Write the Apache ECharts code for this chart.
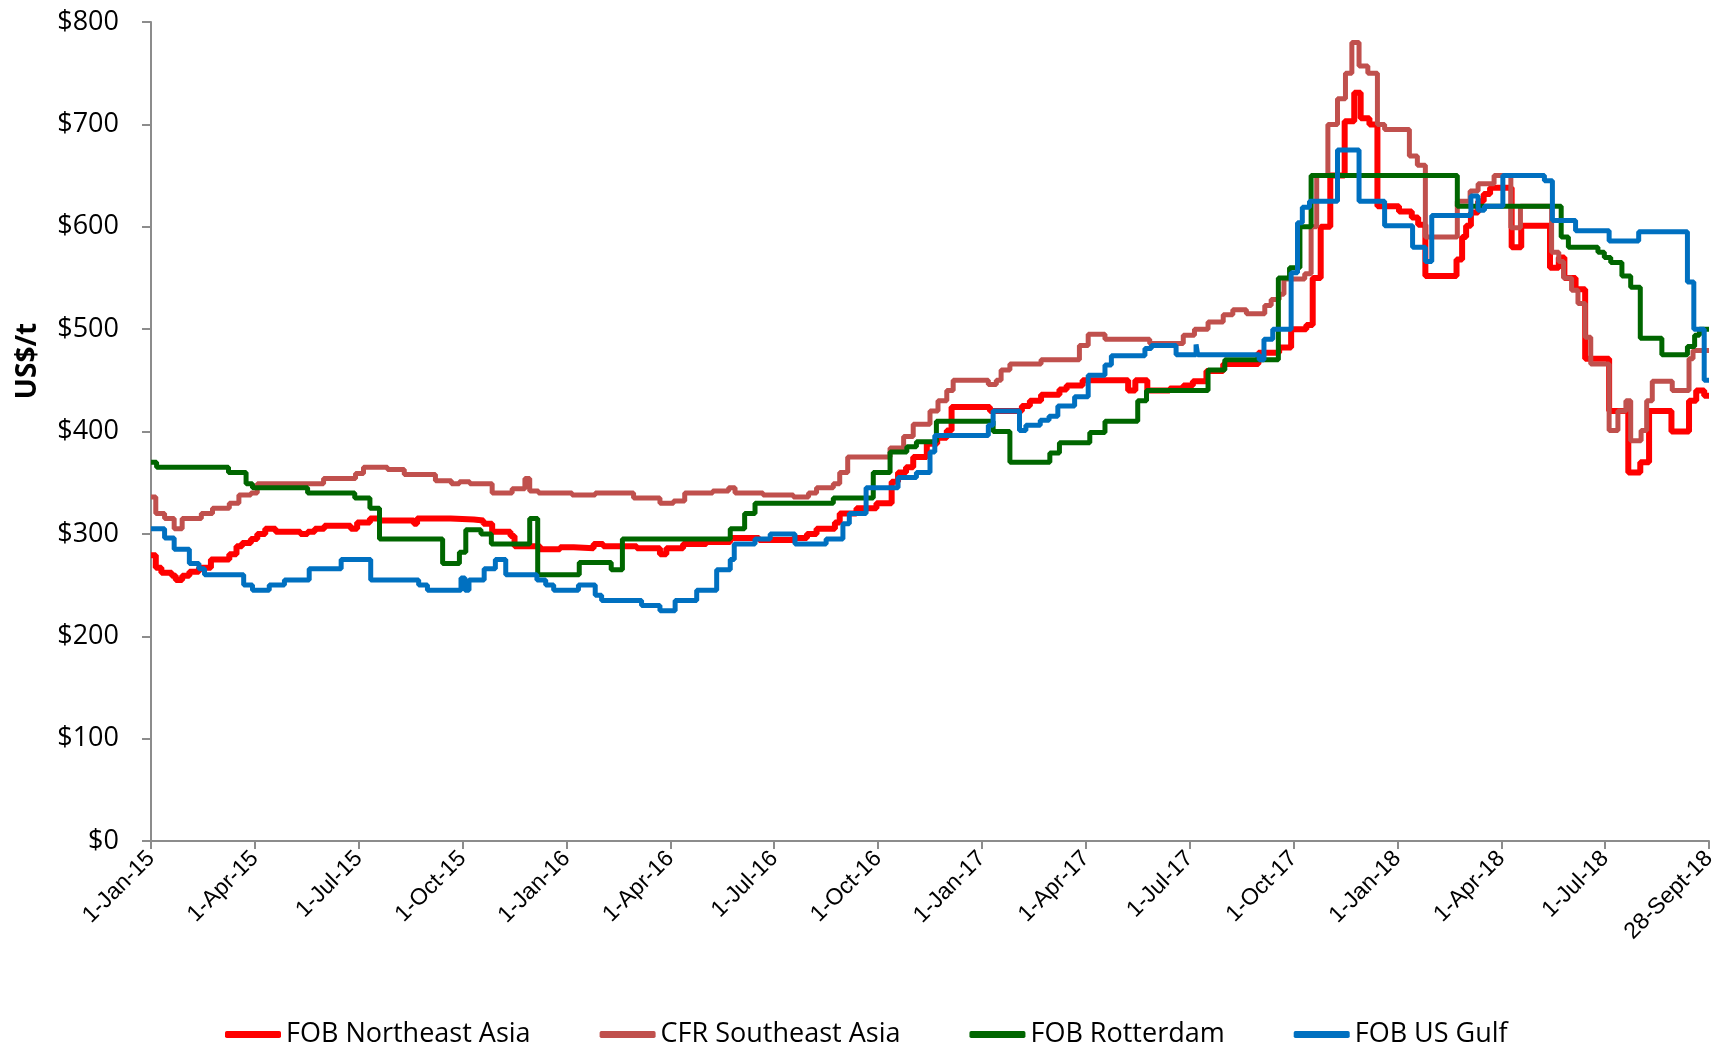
<!DOCTYPE html>
<html>
<head>
<meta charset="utf-8">
<title>Price chart</title>
<script src="https://cdn.jsdelivr.net/npm/echarts@6/dist/echarts.min.js"></script>
<style>
  html, body { margin: 0; padding: 0; background: #fff; }
  #chart { width: 1729px; height: 1046px; }
</style>
</head>
<body>
<div id="chart"></div>
<script>
// x values are weeks counted from 1-Jan-15, one tick label every 13 weeks
const tickLabels = ['1-Jan-15', '1-Apr-15', '1-Jul-15', '1-Oct-15', '1-Jan-16', '1-Apr-16',
  '1-Jul-16', '1-Oct-16', '1-Jan-17', '1-Apr-17', '1-Jul-17', '1-Oct-17', '1-Jan-18',
  '1-Apr-18', '1-Jul-18', '28-Sept-18'];

const seriesNames = ['FOB Northeast Asia', 'CFR Southeast Asia', 'FOB Rotterdam', 'FOB US Gulf'];

// [week, US$/t] at each price change
const fobNortheastAsia = [
  [0, 279], [0.6, 267], [1.3, 262], [2.6, 259], [3.1, 255], [3.9, 259], [4.8, 263], [6, 267],
  [7.5, 275], [9.8, 280], [10.7, 288], [11.4, 291], [12.5, 295], [13.3, 300], [14.3, 305],
  [15.6, 302], [18.7, 300], [19.6, 302], [20.5, 305], [21.7, 308], [25, 305], [25.8, 311],
  [27.4, 315], [28.7, 313], [32.9, 310], [33.3, 315], [37.5, 314], [40.4, 313], [41.6, 310],
  [42.7, 302], [45, 298], [45.5, 288], [48.7, 285], [51.2, 287], [52.9, 286], [55.4, 290],
  [56.6, 288], [60.8, 286], [63.7, 280], [64.5, 286], [66.6, 290], [69.5, 292], [72.5, 296],
  [76.1, 294], [80.4, 296], [82.1, 300], [83.3, 305], [85.6, 311], [86.2, 320], [88.3, 325],
  [90.8, 330], [92.7, 351], [93.5, 360], [94.5, 365], [95.4, 375], [97.1, 388], [98.4, 394],
  [99.6, 401], [100.2, 424], [105, 420], [109, 425], [110, 430], [111.4, 436], [113.7, 441],
  [114.6, 445], [116.6, 450], [122.3, 440], [123.2, 450], [124.7, 440], [127.5, 442],
  [129.2, 445], [130.4, 449], [132.1, 459], [134.2, 466], [138.6, 477], [141.2, 482],
  [142.7, 500], [144.6, 504], [145.4, 550], [146.4, 600], [147.6, 650], [149.4, 703],
  [150.6, 731], [151.4, 706], [152.5, 700], [153.5, 620], [156.2, 615], [157.8, 609],
  [158.6, 602], [159.5, 552], [163.4, 568], [164.1, 590], [164.6, 601], [165.2, 614],
  [166.1, 625], [166.8, 632], [167.6, 638], [170.3, 580], [171.5, 601], [175.1, 560],
  [176.2, 570], [176.9, 550], [178.3, 539], [179.5, 471], [182.5, 420], [184.9, 360],
  [186.4, 370], [187.5, 420], [190.3, 400], [192.5, 430], [193.4, 440], [194.4, 435], [195, 435]
];

const cfrSoutheastAsia = [
  [0, 336], [0.6, 320], [1.7, 315], [2.9, 305], [3.9, 315], [6.3, 320], [7.7, 325], [9.8, 330],
  [11, 338], [12.5, 340], [13.3, 349], [21.6, 354], [25.6, 359], [26.6, 365], [29.6, 363],
  [31.7, 358], [35.6, 352], [37.6, 349], [38.6, 351], [39.9, 349], [42.7, 340], [45.2, 344],
  [46.8, 354], [47.4, 342], [48.5, 340], [52.7, 338], [55.6, 340], [60.4, 335], [63.7, 330],
  [65.4, 332], [66.8, 340], [70.3, 342], [72.3, 345], [73.1, 340], [76.6, 338], [80.4, 336],
  [82.3, 340], [83.3, 345], [85.4, 349], [86.2, 360], [87.2, 375], [92.5, 384], [94.2, 395],
  [95.4, 407], [97.5, 420], [98.5, 430], [99.6, 440], [100.4, 450], [104.8, 446], [105.8, 450],
  [106.4, 460], [107.5, 466], [111.4, 470], [116.2, 484], [117.3, 495], [119.4, 490],
  [125, 486], [129.2, 494], [130.6, 500], [132.3, 507], [134.2, 514], [135.4, 519],
  [137.1, 515], [139.4, 523], [140.2, 529], [141.2, 534], [141.8, 549], [144.4, 554],
  [145.2, 600], [145.9, 650], [147.3, 700], [148.5, 725], [149.5, 750], [150.3, 780],
  [151.2, 757], [152.3, 750], [153.5, 700], [154.4, 695], [157.5, 669], [158.5, 660],
  [159.5, 590], [163.5, 625], [165.1, 635], [166.1, 642], [168.1, 650], [170.2, 599],
  [171.4, 620], [175.3, 575], [176.2, 566], [176.8, 550], [177.8, 538], [178.6, 525],
  [179.5, 492], [180.2, 466], [182.5, 401], [183.6, 420], [184.6, 430], [185.2, 391],
  [186.5, 401], [187.2, 430], [187.9, 449], [190.4, 440], [192.5, 471], [193, 479], [195, 479]
];

const fobRotterdam = [
  [0, 370], [0.7, 365], [9.7, 360], [11.9, 349], [12.7, 345], [19.6, 340], [25.5, 335],
  [27.4, 325], [28.6, 295], [36.5, 271], [38.6, 282], [39.4, 304], [41.3, 300], [42.6, 290],
  [47.4, 315], [48.4, 260], [53.6, 272], [57.6, 265], [59, 295], [72.5, 305], [74.3, 320],
  [75.6, 330], [85.4, 335], [90.4, 360], [92.5, 380], [94.6, 385], [95.8, 390], [98.3, 410],
  [105.4, 400], [107.5, 370], [112.5, 379], [113.7, 389], [117.5, 399], [119.4, 410],
  [123.5, 430], [124.6, 440], [132.3, 460], [134.4, 470], [141.1, 550], [142.5, 560],
  [143.8, 600], [145.2, 650], [163.5, 620], [176.5, 590], [177.4, 580], [181.1, 575],
  [181.9, 570], [182.7, 565], [184.1, 552], [185.2, 541], [186.4, 491], [189.1, 475],
  [192.3, 483], [193.2, 494], [193.8, 500], [195, 500]
];

const fobUsGulf = [
  [0, 305], [1.7, 296], [2.9, 285], [4.8, 271], [6, 266], [6.7, 260], [11.6, 250], [12.7, 245],
  [14.8, 250], [16.7, 255], [19.8, 266], [23.8, 275], [27.5, 255], [33.5, 250], [34.6, 245],
  [38.8, 257], [39.3, 245], [39.8, 255], [41.7, 266], [43.1, 275], [44.4, 260], [48.3, 255],
  [49.4, 250], [50.4, 245], [53.5, 250], [55.6, 240], [56.4, 235], [61.4, 230], [63.7, 225],
  [65.6, 235], [68.3, 245], [70.8, 265], [72.5, 275], [73, 290], [75.6, 295], [77.5, 300],
  [80.6, 290], [84.5, 295], [86.6, 310], [87.4, 320], [89.5, 345], [93.5, 355], [95.8, 360],
  [97.5, 380], [98.1, 396], [104.8, 406], [105.4, 420], [108.7, 401], [109.5, 406],
  [111.3, 411], [112.4, 415], [113.5, 425], [115.6, 434], [117.3, 455], [119.4, 465],
  [120.2, 474], [124.4, 481], [125.2, 484], [128.3, 475], [130.8, 485], [131.0, 475],
  [138.7, 470], [139.3, 490], [140.4, 500], [142.7, 555], [143.5, 604], [144.1, 619],
  [145, 625], [148.5, 675], [151.2, 625], [154.4, 601], [157.9, 580], [159.5, 566],
  [160.3, 611], [165.2, 630], [166.1, 616], [166.9, 620], [169.2, 650], [174.4, 645],
  [175.4, 606], [178.3, 596], [182.5, 586], [186.2, 595], [192.3, 546], [193.1, 500],
  [194.4, 450], [195, 450]
];

const seriesData = [fobNortheastAsia, cfrSoutheastAsia, fobRotterdam, fobUsGulf];
const seriesColors = ['#ff0000', '#c0504d', '#006600', '#0070c0'];
const seriesWidths = [6, 5, 5, 5];

const axisGrey = '#8c8c8c';

const chart = echarts.init(document.getElementById('chart'));

chart.setOption({
  animation: false,
  grid: { left: 151, right: 20, top: 22, bottom: 205 },
  legend: {
    left: 220,
    top: 1016,
    itemGap: 69,
    itemWidth: 56,
    itemHeight: 7,
    icon: 'roundRect',
    textStyle: { fontFamily: 'Open Sans', fontSize: 27, color: '#000' },
    data: seriesNames
  },
  xAxis: {
    type: 'value',
    min: 0,
    max: 195,
    interval: 13,
    axisLine: { lineStyle: { color: axisGrey, width: 2 } },
    axisTick: { length: 8, lineStyle: { color: axisGrey, width: 2 } },
    splitLine: { show: false },
    axisLabel: {
      rotate: 45,
      margin: 14,
      fontFamily: 'Liberation Sans',
      fontSize: 23,
      color: '#000',
      formatter: v => tickLabels[Math.round(v / 13)]
    }
  },
  yAxis: {
    type: 'value',
    min: 0,
    max: 800,
    interval: 100,
    axisLine: { show: true, lineStyle: { color: axisGrey, width: 2 } },
    axisTick: { show: true, length: 9, lineStyle: { color: axisGrey, width: 2 } },
    splitLine: { show: false },
    axisLabel: {
      margin: 32,
      fontFamily: 'Open Sans',
      fontSize: 27,
      color: '#000',
      formatter: v => '$' + v
    }
  },
  graphic: [{
    type: 'text',
    x: 28,
    y: 361,
    rotation: Math.PI / 2,
    style: {
      text: 'US$/t',
      font: 'bold 28px "Open Sans"',
      fill: '#000',
      align: 'center',
      verticalAlign: 'middle'
    }
  }],
  series: seriesNames.map((name, i) => ({
    name: name,
    type: 'line',
    step: 'end',
    showSymbol: false,
    data: seriesData[i],
    color: seriesColors[i],
    lineStyle: { color: seriesColors[i], width: seriesWidths[i] }
  }))
});
</script>
</body>
</html>
